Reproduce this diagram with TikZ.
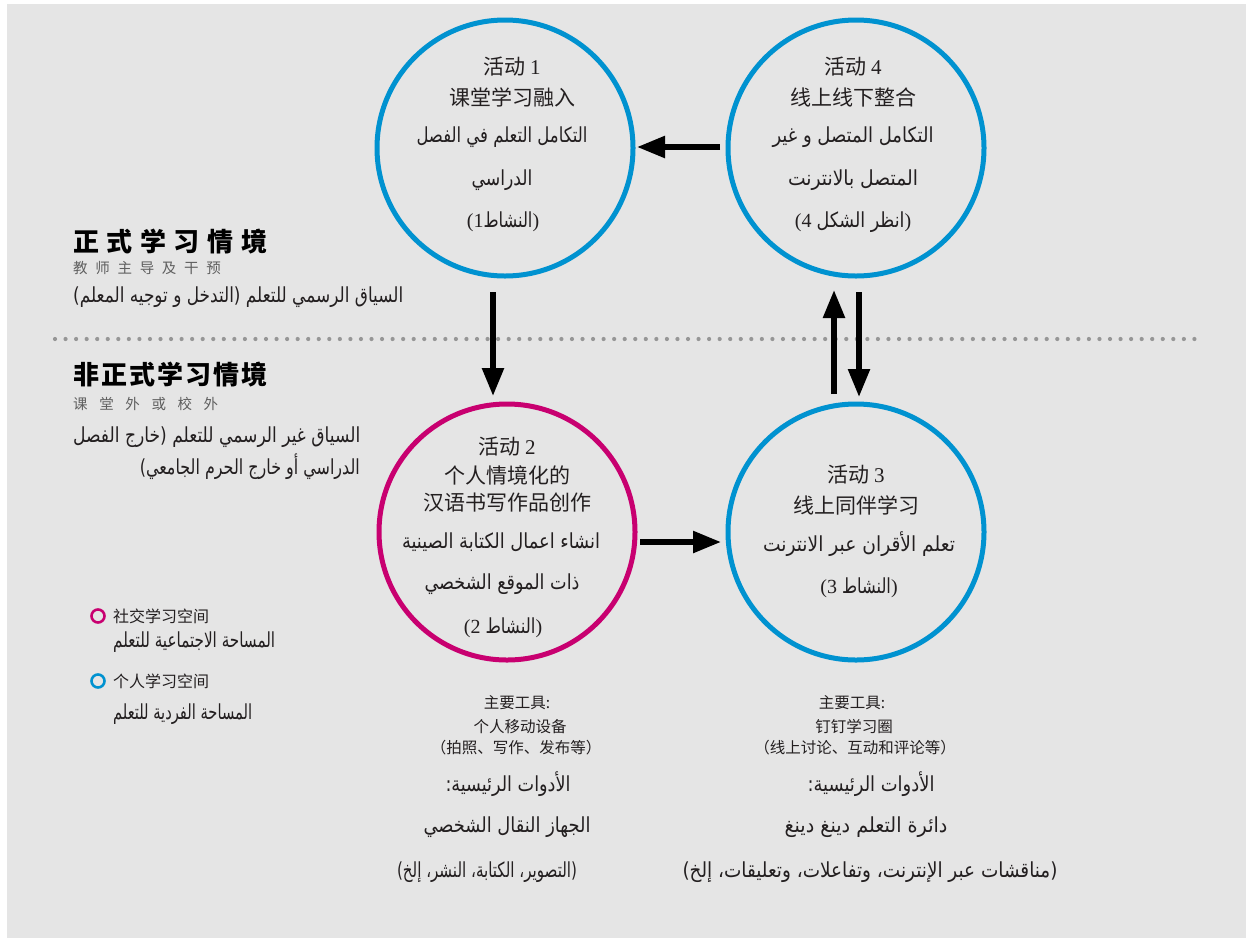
\documentclass[tikz,border=0pt]{standalone}
\usepackage{fontspec}
\usepackage{graphicx}
\setmainfont{Liberation Serif}
\newfontfamily\cjk{Noto Sans CJK SC}
\newfontfamily\arabicfont[Script=Arabic]{DejaVu Sans}
\TeXXeTstate=1
\usetikzlibrary{arrows.meta}
\definecolor{bgc}{RGB}{229,229,229}
\definecolor{cblue}{RGB}{0,146,208}
\definecolor{cmag}{RGB}{200,0,112}
\definecolor{dotc}{RGB}{150,150,150}
\definecolor{subc}{RGB}{95,95,95}
\definecolor{txt}{RGB}{35,31,32}
\newcommand\AR[2]{\resizebox{#1}{1.22\height}{\arabicfont #2}}
\newcommand\RM[1]{{\rmfamily\fontsize{20}{23}\selectfont #1}}
\tikzset{
  bluecirc/.style={circle, draw=cblue, line width=5pt, minimum size=256pt, inner sep=0pt},
  magcirc/.style={circle, draw=cmag, line width=5pt, minimum size=256pt, inner sep=0pt},
  zh/.style={font=\cjk\fontsize{21}{24}\selectfont, inner sep=0pt, text=txt},
  zhs/.style={font=\cjk\fontsize{15.5}{18}\selectfont, inner sep=0pt, text=txt},
  zhl/.style={font=\cjk\fontsize{16}{18}\selectfont, inner sep=0pt, text=txt},
  zhb/.style={font=\cjk\bfseries\fontsize{26}{30}\selectfont, inner sep=0pt, text=black},
  zhsub/.style={font=\cjk\fontsize{14.5}{16}\selectfont, inner sep=0pt, text=subc},
  ar/.style={font=\fontsize{17}{20}\selectfont, inner sep=0pt, text=txt},
  arr/.style={line width=5.5pt, -{Triangle[length=28pt,width=21pt]}},
  legc/.style={circle, line width=2.6pt, minimum size=13pt, inner sep=0pt}
}
\begin{document}
\begin{tikzpicture}[x=1pt,y=-1pt]
\useasboundingbox (0,0) rectangle (1252,938);
\fill[white] (0,0) rectangle (1252,938);
\fill[bgc] (7,4) rectangle (1246,938);

% dotted separator
\coordinate (dl) at (55,339);
\coordinate (dr) at (1198,339);
\draw[dotc, line width=4.2pt, line cap=round, dash pattern=on 0pt off 10.55pt] (dl) -- (dr);

% circles
\node[bluecirc] (c1) at (505,148) {};
\node[bluecirc] (c4) at (856,148) {};
\node[magcirc]  (c2) at (507,532) {};
\node[bluecirc] (c3) at (856,532) {};

% arrows
\coordinate (a41s) at (720,147); \coordinate (a41e) at (637,147);
\coordinate (a12s) at (493,292); \coordinate (a12e) at (493,396);
\coordinate (a34s) at (834,394); \coordinate (a34e) at (834,290);
\coordinate (a43s) at (859,292); \coordinate (a43e) at (859,397);
\coordinate (a23s) at (640,542); \coordinate (a23e) at (721,542);
\draw[arr] (a41s) -- (a41e);
\draw[arr] (a12s) -- (a12e);
\draw[arr] (a34s) -- (a34e);
\draw[arr] (a43s) -- (a43e);
\draw[arr] (a23s) -- (a23e);

% circle 1 text
\node[zh] (t1a) at (512,67) {活动 {\rmfamily 1}};
\node[zh] (t1b) at (512,97) {课堂学习融入};
\node[ar] (t1c) at (502,137) {\AR{171pt}{\beginR التكامل التعلم في الفصل\endR}};
\node[ar] (t1d) at (502,180) {\AR{61pt}{\beginR الدراسي\endR}};
\node[ar] (t1e) at (503,222) {\RM{(1}\AR{49pt}{\beginR النشاط\endR}\RM{)}};

% circle 4 text
\node[zh] (t4a) at (853,67) {活动 {\rmfamily 4}};
\node[zh] (t4b) at (853,97) {线上线下整合};
\node[ar] (t4c) at (853,137) {\AR{161pt}{\beginR التكامل المتصل و غير\endR}};
\node[ar] (t4d) at (853,180) {\AR{130pt}{\beginR المتصل بالانترنت\endR}};
\node[ar] (t4e) at (853,222) {\RM{(4 }\AR{88pt}{\beginR انظر الشكل\endR}\RM{)}};

% circle 2 text
\node[zh] (t2a) at (507,447) {活动 {\rmfamily 2}};
\node[zh] (t2b) at (507,475) {个人情境化的};
\node[zh] (t2c) at (507,503) {汉语书写作品创作};
\node[ar] (t2d) at (501,542) {\AR{198pt}{\beginR انشاء اعمال الكتابة الصينية\endR}};
\node[ar] (t2e) at (502,584) {\AR{155pt}{\beginR ذات الموقع الشخصي\endR}};
\node[ar] (t2f) at (503,628) {\RM{(2 }\AR{50pt}{\beginR النشاط\endR}\RM{)}};

% circle 3 text
\node[zh] (t3a) at (856,475) {活动 {\rmfamily 3}};
\node[zh] (t3b) at (856,505) {线上同伴学习};
\node[ar] (t3c) at (859,544) {\AR{192pt}{\beginR تعلم الأقران عبر الانترنت\endR}};
\node[ar] (t3d) at (859,588) {\RM{(3 }\AR{49pt}{\beginR النشاط\endR}\RM{)}};

% left column
\node[zhb, anchor=west] (h1) at (73,242) {正\hspace{7.6pt}式\hspace{7.6pt}学\hspace{7.6pt}习\hspace{7.6pt}情\hspace{7.6pt}境};
\node[zhsub, anchor=west] (s1) at (73,268) {教\hspace{7.7pt}师\hspace{7.7pt}主\hspace{7.7pt}导\hspace{7.7pt}及\hspace{7.7pt}干\hspace{7.7pt}预};
\node[ar, anchor=west] (l1) at (73,297) {\AR{330pt}{\beginR السياق الرسمي للتعلم (التدخل و توجيه المعلم)\endR}};

\node[zhb, anchor=west] (h2) at (73,375) {非\hspace{2pt}正\hspace{2pt}式\hspace{2pt}学\hspace{2pt}习\hspace{2pt}情\hspace{2pt}境};
\node[zhsub, anchor=west] (s2) at (73,404) {课\hspace{11.6pt}堂\hspace{11.6pt}外\hspace{11.6pt}或\hspace{11.6pt}校\hspace{11.6pt}外};
\node[ar, anchor=west] (l2) at (73,437) {\AR{287pt}{\beginR السياق غير الرسمي للتعلم (خارج الفصل\endR}};
\node[ar, anchor=east] (l3) at (360,467) {\AR{220pt}{\beginR الدراسي أو خارج الحرم الجامعي)\endR}};

% legend
\node[legc, draw=cmag] (lm) at (98,616) {};
\node[zhl, anchor=west] (lmt) at (113,616) {社交学习空间};
\node[ar, anchor=west] (lma) at (113,642) {\AR{162pt}{\beginR المساحة الاجتماعية للتعلم\endR}};
\node[legc, draw=cblue] (lb) at (98,681) {};
\node[zhl, anchor=west] (lbt) at (113,681) {个人学习空间};
\node[ar, anchor=west] (lba) at (113,714) {\AR{139pt}{\beginR المساحة الفردية للتعلم\endR}};

% tools under circle 2
\node[zhs] (u2a) at (517,703) {主要工具:};
\node[zhs] (u2b) at (520,727) {个人移动设备};
\node[zhs] (u2c) at (516,748) {（拍照、写作、发布等）};
\node[ar] (u2d) at (508,784) {\AR{125pt}{\beginR الأدوات الرئيسية:\endR}};
\node[ar] (u2e) at (507,827) {\AR{167pt}{\beginR الجهاز النقال الشخصي\endR}};
\node[ar] (u2f) at (487,872) {\AR{180pt}{\beginR (التصوير، الكتابة، النشر، إلخ)\endR}};

% tools under circle 3
\node[zhs] (u3a) at (852,703) {主要工具:};
\node[zhs] (u3b) at (854,727) {钉钉学习圈};
\node[zhs] (u3c) at (855,748) {（线上讨论、互动和评论等）};
\node[ar] (u3d) at (871,784) {\AR{127pt}{\beginR الأدوات الرئيسية:\endR}};
\node[ar] (u3e) at (866,827) {\AR{163pt}{\beginR دائرة التعلم دينغ دينغ\endR}};
\node[ar] (u3f) at (870,872) {\AR{375pt}{\beginR (مناقشات عبر الإنترنت، وتفاعلات، وتعليقات، إلخ)\endR}};
\end{tikzpicture}
\end{document}
